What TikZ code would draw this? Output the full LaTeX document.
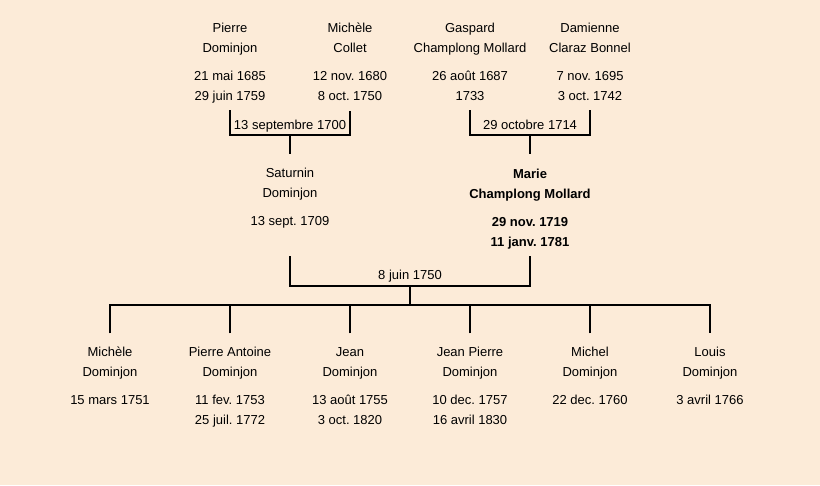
\documentclass[tikz,border=0pt]{standalone}
\usepackage{fontspec}
\setmainfont{Liberation Sans}
\frenchspacing
\definecolor{paper}{RGB}{252,235,216}
\begin{document}
\begin{tikzpicture}[x=0.75pt,y=-0.75pt,
    every node/.style={align=center,inner sep=3pt,font=\fontsize{9.75}{15}\selectfont,
        execute at end node=\strut},
    pers/.style={anchor=north},
    kid/.style={pers,outer ysep=7.5pt},
    moi/.style={font=\fontsize{9.75}{15}\selectfont\bfseries},
    link/.style={line width=1.5pt}]
    \fill[paper] (0,0) rectangle (820,485);
    \useasboundingbox (0,0) rectangle (820,485);
    % grandparents
    \node[pers] (pd) at (230,18.4) {Pierre\\Dominjon\\[6pt]21 mai 1685\\29 juin 1759};
    \node[pers] (mc) at (350,18.4) {Michèle\\Collet\\[6pt]12 nov. 1680\\8 oct. 1750};
    \node[pers] (gc) at (470,18.4) {Gaspard\\Champlong Mollard\\[6pt]26 août 1687\\1733};
    \node[pers] (dc) at (590,18.4) {Damienne\\Claraz Bonnel\\[6pt]7 nov. 1695\\3 oct. 1742};
    % parents
    \node[kid] (sd) at (290,154.4) {Saturnin\\Dominjon\\[6pt]13 sept. 1709};
    \node[pers,moi] (mcm) at (530,164.4) {Marie\\Champlong Mollard\\[6pt]29 nov. 1719\\11 janv. 1781};
    % children
    \foreach \i/\txt in {1/{Michèle\\Dominjon\\[6pt]15 mars 1751},
        2/{Pierre Antoine\\Dominjon\\[6pt]11 fev. 1753\\25 juil. 1772},
        3/{Jean\\Dominjon\\[6pt]13 août 1755\\3 oct. 1820},
        4/{Jean Pierre\\Dominjon\\[6pt]10 dec. 1757\\16 avril 1830},
        5/{Michel\\Dominjon\\[6pt]22 dec. 1760},
        6/{Louis\\Dominjon\\[6pt]3 avril 1766}}
        \node[kid] (c\i) at ({110+120*(\i-1)},333.4) {\txt};
    % marriages
    \node (w1) at (290,125) {13 septembre 1700};
    \node (w2) at (530,125) {29 octobre 1714};
    \node (w3) at (410,275) {8 juin 1750};
    \coordinate (j1) at (290,135);
    \coordinate (j2) at (530,135);
    \coordinate (j3) at (410,286);
    \coordinate (k) at (410,305);
    \draw[link] (pd.south) |- (j1) -| (mc.south);
    \draw[link] (j1) -- (sd.north);
    \draw[link] (gc.south) |- (j2) -| (dc.south);
    \draw[link] (j2) -- (j2 |- sd.north);
    \draw[link] (sd.south |- mcm.south) |- (j3) -| (mcm.south);
    \draw[link] (j3) -- (k);
    \draw[link] (c1.north) |- (k) -| (c6.north);
    \foreach \i in {2,...,5}
        \draw[link] (c\i.north) -- (c\i.north |- k);
\end{tikzpicture}
\end{document}
